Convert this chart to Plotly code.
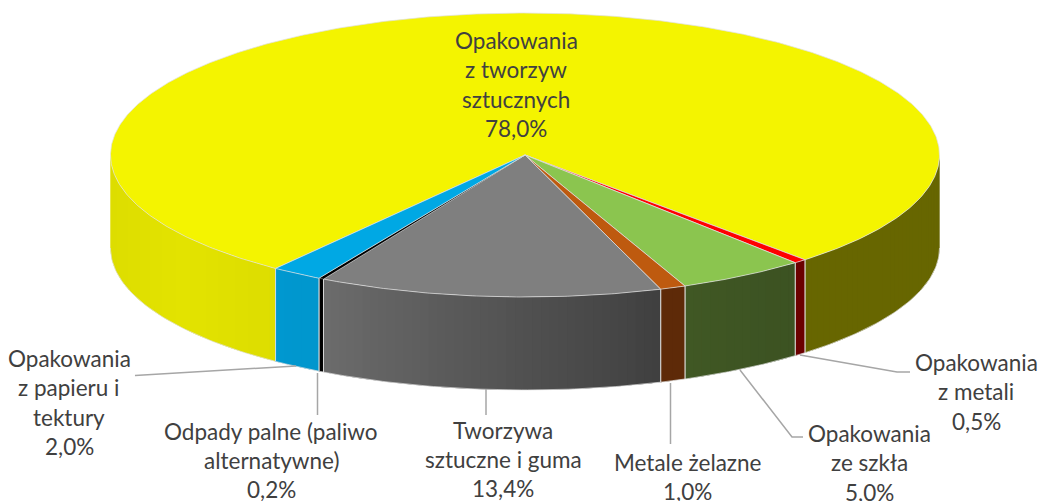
import numpy as np
import plotly.graph_objects as go

# ---- data -------------------------------------------------------------
categories = [
    "Opakowania z tworzyw sztucznych",
    "Opakowania z metali",
    "Opakowania ze szkła",
    "Metale żelazne",
    "Tworzywa sztuczne i guma",
    "Odpady palne (paliwo alternatywne)",
    "Opakowania z papieru i tektury",
]
values = [78.0, 0.5, 5.0, 1.0, 13.4, 0.2, 2.0]
label_lines = [
    ["Opakowania", "z tworzyw", "sztucznych"],
    ["Opakowania", "z metali"],
    ["Opakowania", "ze szkła"],
    ["Metale żelazne"],
    ["Tworzywa", "sztuczne i guma"],
    ["Odpady palne (paliwo", "alternatywne)"],
    ["Opakowania", "z papieru i", "tektury"],
]

# ---- styles and layout -------------------------------------------------
top_colors = ["#F4F400", "#FF0000", "#8BC54F", "#BE5A0F", "#7F7F7F", "#000000", "#00A8E4"]
# side shading: list of (x pixel, rgb) stops for each slice
side_stops = [
    [(110, (221, 221, 0)), (180, (227, 227, 0)), (275, (221, 221, 0)),
     (800, (103, 102, 0)), (940, (103, 102, 0))],
    [(795, (107, 0, 0)), (805, (107, 0, 0))],
    [(684, (64, 88, 36)), (795, (60, 82, 34))],
    [(660, (94, 42, 8)), (684, (94, 42, 8))],
    [(319, (108, 108, 108)), (450, (90, 90, 90)), (660, (64, 64, 64))],
    [(316, (0, 0, 0)), (319, (0, 0, 0))],
    [(275, (0, 152, 208)), (316, (0, 150, 205))],
]
label_pos = [(516, 40.5), (976, 362.5), (869.5, 433.5), (687.5, 462.5), (503, 430), (271, 431), (69, 358.5)]
leaders = [
    None,
    [(800, 355), (897, 372), (910, 372)],
    [(740, 370), (792, 437), (803, 437)],
    [(670.5, 383), (670.5, 444)],
    [(486, 389), (486, 415)],
    [(317.5, 373), (317.5, 415)],
    [(135, 375.5), (296, 366)],
]
CX, CY, RX, RY, DEPTH = 525, 155, 414.5, 142, 93
FIRST_ANGLE = 217.0
FONT = "Lato"
FONT_SIZE = 22.5
LINE_PITCH = 29.3
EDGE = "rgba(225,225,225,0.9)"


def ex(t):
    return CX + RX * np.sin(np.radians(t))


def ey(t):
    return CY - RY * np.cos(np.radians(t))


def poly(x, y, fill, line=None, width=0):
    return go.Scatter(
        x=list(x), y=list(y), mode="lines", fill="toself", fillcolor=fill,
        line=dict(color=line or fill, width=width), hoverinfo="skip", showlegend=False,
    )


def shade(stops, x):
    xs = [s[0] for s in stops]
    rgb = [float(np.interp(x, xs, [s[1][i] for s in stops])) for i in range(3)]
    return "rgb(%d,%d,%d)" % tuple(round(c) for c in rgb)


fig = go.Figure()

# slice angle spans
spans = []
a = FIRST_ANGLE
for v in values:
    b = a + v / sum(values) * 360
    spans.append((a, b))
    a = b

# side walls, visible only on the front half (90..270 degrees)
for (a, b), stops in zip(spans, side_stops):
    ranges = []
    for k in (0, 360):
        lo, hi = max(a, 90 + k), min(b, 270 + k)
        if hi > lo:
            ranges.append((lo, hi))
    for lo, hi in ranges:
        n = max(2, int((hi - lo) / 1.2))
        ts = np.linspace(lo, hi, n + 1)
        step = ts[1] - ts[0]
        for t0, t1 in zip(ts[:-1], ts[1:]):
            # each strip runs under the next one, so no gaps show between them
            arc = np.linspace(t0, min(t1 + step, hi), 5)
            xs = np.concatenate([ex(arc), ex(arc[::-1])])
            ys = np.concatenate([ey(arc), ey(arc[::-1]) + DEPTH])
            c = shade(stops, float(ex((t0 + t1) / 2)))
            fig.add_trace(poly(xs, ys, c))
        # seams and edges
        arc = np.linspace(lo, hi, 60)
        fig.add_trace(go.Scatter(
            x=ex(arc), y=ey(arc) + DEPTH, mode="lines",
            line=dict(color=EDGE, width=0.8), hoverinfo="skip", showlegend=False))
        for t in (lo, hi):
            if 91 < (t % 360) < 269:
                fig.add_trace(go.Scatter(
                    x=[ex(t), ex(t)], y=[ey(t), ey(t) + DEPTH], mode="lines",
                    line=dict(color=EDGE, width=1), hoverinfo="skip", showlegend=False))

# top faces
for (a, b), col in zip(spans, top_colors):
    arc = np.linspace(a, b, max(3, int((b - a) * 2)))
    xs = np.concatenate([[CX], ex(arc), [CX]])
    ys = np.concatenate([[CY], ey(arc), [CY]])
    fig.add_trace(poly(xs, ys, col, EDGE, 0.8 if col != "#000000" else 0.3))

# leader lines
for pts in leaders:
    if pts:
        fig.add_trace(go.Scatter(
            x=[p[0] for p in pts], y=[p[1] for p in pts], mode="lines",
            line=dict(color="#A6A6A6", width=1.5), hoverinfo="skip", showlegend=False))

# labels
annotations = []
for lines, v, (lx, ly) in zip(label_lines, values, label_pos):
    texts = lines + [f"{v:.1f}%".replace(".", ",")]
    for i, t in enumerate(texts):
        annotations.append(dict(
            x=lx, y=ly + i * LINE_PITCH, text=t, showarrow=False,
            xanchor="center", yanchor="middle", xref="x", yref="y",
            font=dict(family=FONT, size=FONT_SIZE, color="#404040"),
        ))

fig.update_layout(
    width=1038, height=501, margin=dict(l=0, r=0, t=0, b=0),
    paper_bgcolor="white", plot_bgcolor="white", showlegend=False,
    xaxis=dict(range=[0, 1038], visible=False, fixedrange=True),
    yaxis=dict(range=[501, 0], visible=False, fixedrange=True),
    annotations=annotations,
)
fig.write_html(
    "out.html", config={"displayModeBar": False},
    post_script="document.body.style.margin='0';document.body.style.overflow='hidden';",
)
